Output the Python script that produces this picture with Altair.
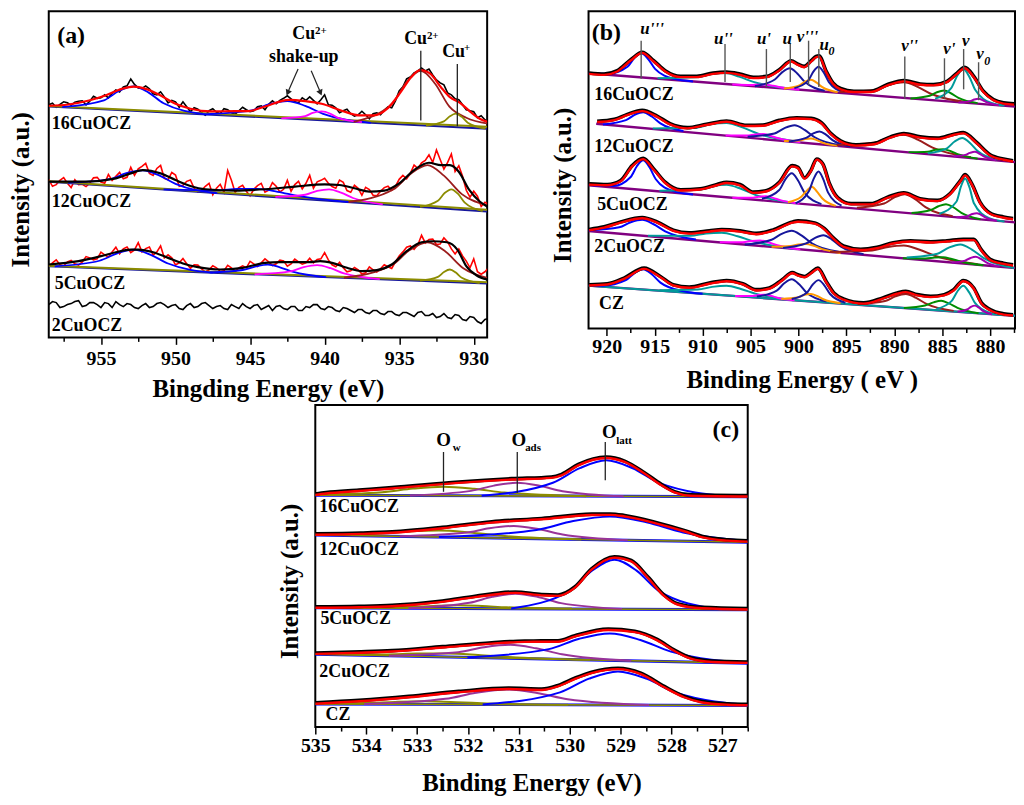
import altair as alt
import pandas as pd

SERIF = "Liberation Serif"

# ============ Panel (a) : Cu 2p ============
A_GRID = [958.5, 958.0, 957.5, 957.0, 956.5, 956.0, 955.5, 955.0, 954.5, 954.0, 953.5, 953.0,
          952.5, 952.0, 951.5, 951.0, 950.5, 950.0, 949.5, 949.0, 948.5, 948.0, 947.5, 947.0,
          946.5, 946.0, 945.5, 945.0, 944.5, 944.0, 943.5, 943.0, 942.5, 942.0, 941.5, 941.0,
          940.5, 940.0, 939.5, 939.0, 938.5, 938.0, 937.5, 937.0, 936.5, 936.0, 935.5, 935.0,
          934.5, 934.0, 933.5, 933.0, 932.5, 932.0, 931.5, 931.0, 930.5, 930.0, 929.5, 929.0]
A_MID = [x - 0.25 for x in A_GRID]  # sample positions half-way between grid points
A16_RAW = [234, 231.5, 237, 233.5, 237.5, 234, 242.5, 241, 241, 249, 252, 260, 251, 253, 245, 247,
           236, 237, 237, 227, 229.5, 223.5, 230, 225, 229, 224.5, 231.5, 227, 232, 229, 238, 238.5,
           243, 237, 241, 242, 235, 244, 233.5, 226, 229.5, 222.5, 227.5, 220, 226, 228.5, 231, 248,
           260, 266, 271, 270, 259, 254, 244, 239, 229, 227, 223, 215.5]
A16_RAW_MID = [235.5, 234.5, 236, 236.5, 238, 237.5, 240.5, 244, 245.5, 247, 253, 254.5, 250.5, 250,
               244, 242, 238.5, 231.5, 232, 231, 226, 228, 226.5, 230, 226, 228, 229, 228, 233, 234.5,
               235, 240.5, 240, 236, 238.5, 238.5, 239, 234, 231, 228, 225, 224, 224, 225, 224, 232,
               238, 252, 262, 268, 268, 264, 256, 246, 240, 234, 228, 221, 219, 214]
A12_RAW = [158.7, 153.7, 160.7, 150.7, 153.7, 151.7, 160.5, 156.3, 164, 162, 159.5, 171, 169.5, 175,
           163, 173, 158.5, 163.3, 153, 158.3, 146.5, 152, 143.5, 154, 167.8, 145.7, 153, 142.3, 152.7,
           146, 155.7, 146.3, 158, 153.7, 149.3, 163, 156.5, 160, 151.7, 158.3, 147.7, 153, 143, 148.7,
           142.5, 150.7, 148, 159, 159.5, 173.3, 175.5, 183.7, 188.5, 169.3, 184.5, 172.7, 148, 147,
           131.7, 134]
A12_RAW_MID = [152, 158, 155, 158.5, 154, 155, 161, 155, 158, 166, 161, 163, 172, 165, 170, 160, 166,
               152, 157, 150, 148, 155, 150, 146, 158, 151, 147, 149, 155, 148, 152, 149, 147, 157, 155,
               150, 158, 155, 150, 156, 146, 150, 151, 143, 147, 152, 152, 163, 165, 170, 178, 176, 179,
               176, 167, 162, 141, 142, 136, 130]
A5_RAW = [71.3, 78, 71.7, 77.5, 72.7, 81.3, 78, 85.7, 80.7, 90.7, 89, 85.3, 95.3, 89.3, 82.7, 92, 83,
          73, 79.3, 69.5, 72.7, 65.8, 72, 66.3, 72.5, 66, 72, 76.5, 71.3, 79, 72.3, 77.7, 71.7, 78.7,
          73.7, 79.7, 78.3, 85.3, 73, 75.5, 66, 70.3, 63.7, 71, 65.7, 73, 69.3, 82, 90.7, 88.5, 102.7,
          98.5, 93.5, 100.2, 89, 89, 76.7, 79, 63.5, 70]
A5_RAW_MID = [75, 73, 76, 74, 76, 80, 79, 83, 86, 84, 91, 88, 86, 91, 86, 80, 80, 75, 74, 73, 69, 68,
              70, 67, 70, 70, 70, 74, 75, 76, 74, 77, 74, 76, 75, 75, 79, 78, 71, 70, 67, 68, 65, 68,
              69, 71, 76, 86, 92, 93, 95, 99, 94, 96, 84, 82, 70, 66, 66, 60]
A2_RAW = [33, 35, 31, 34, 37, 32, 35, 30, 34, 36, 31, 33, 29, 34, 31, 35, 30, 33, 28, 34, 31, 35, 29,
          32, 28, 31, 34, 29, 33, 30, 27, 32, 28, 31, 27, 30, 33, 28, 30, 26, 29, 25, 28, 24, 27, 23,
          26, 22, 25, 21, 26, 22, 20, 24, 19, 22, 17, 20, 14, 19]
A2_RAW_MID = [36, 30, 33, 36, 31, 35, 33, 35, 30, 33, 34, 30, 32, 30, 34, 33, 32, 29, 32, 30, 34, 32,
              31, 29, 33, 29, 31, 32, 28, 32, 31, 29, 31, 27, 31, 33, 29, 31, 27, 30, 27, 28, 25, 27,
              24, 26, 23, 25, 23, 25, 22, 24, 21, 20, 23, 18, 21, 16, 18, 15]

A16_FIT = [(958.5, 233), (957.2, 234.3), (955.8, 238.3), (954.7, 243.3), (953.6, 250), (952.8, 252.3),
           (952, 250), (951, 243.3), (950, 235), (949, 230), (947.6, 227.3), (946, 227.7), (945.1, 227.7),
           (944, 232.3), (942.4, 239), (941.3, 237.7), (940.2, 235), (938.9, 228.3), (937.6, 223.3),
           (936.7, 223.3), (935.8, 230), (934.9, 246.7), (934.2, 261.7), (933.6, 269), (932.9, 265),
           (932.2, 251.7), (931.6, 241.7), (930.9, 235.7), (930.2, 226.7), (929.6, 220), (929.0, 216.7)]
A16_BLUE1 = [(957.6, 231.7), (954.8, 238.5), (953.8, 247.8), (952.8, 252.5), (951.8, 246.2), (950.8, 235.5), (948.0, 224.4)]
A16_BLUE2 = [(948.1, 224.4), (944.9, 228.4), (943.7, 234.6), (942.5, 237.7), (941.3, 232.9), (940.1, 224.9), (936.9, 215.9)]
A16_MAG = [(942.9, 220.3), (941.3, 222.6), (940.8, 225.8), (940.2, 227.3), (939.6, 224.9), (939.1, 220.9), (937.5, 216.5)]
A16_BROWN = [(938.05, 216.9), (935.47, 235.2), (934.51, 256.7), (933.55, 268), (932.59, 255.2), (931.63, 232.1), (930.5, 221), (929.05, 215)]
A16_OLIVE = [(933.2, 213.1), (932.0, 217.3), (931.6, 222.4), (931.2, 225), (930.8, 221.8), (930.4, 216), (929.2, 210.1)]
A16_BASE_N = [(958.5, 232.3), (929.1, 210)]
A16_BASE_O = [(958.5, 232.8), (929.1, 212)]

A12_FIT = [(958.5, 156.7), (956, 156.7), (954, 160), (953, 165), (952.2, 168.3), (951, 165), (950, 158.3),
           (949, 152.3), (948, 149), (946, 147.7), (944, 149), (942, 151.7), (940, 154), (939, 153.3),
           (938, 150), (937, 146.7), (936, 147.7), (935, 155), (934, 168.3), (933, 175.7), (932.2, 173.3),
           (931.6, 173.3), (931, 166.7), (930.3, 148.3), (929.6, 136.7), (929.1, 131.7)]
A12_BLUE1 = [(957.2, 155.4), (954.4, 159.1), (953.3, 165.2), (952.2, 168), (951.1, 163), (950.0, 154.5), (947.2, 145.2)]
A12_BLUE2 = [(950.8, 148.8), (947.2, 147.8), (945.85, 149.3), (944.5, 149.4), (943.15, 146.5), (941.8, 142.3), (938.2, 136)]
A12_MAG = [(943.3, 141.3), (941.3, 143.5), (940.5, 147.4), (939.7, 149), (938.9, 145.7), (938.1, 140.2), (936.1, 133.8)]
A12_BROWN = [(938.4, 136.2), (935.4, 148.8), (934.2, 164.9), (933.1, 173.3), (932.0, 162.7), (930.8, 144.1), (929.1, 133)]
A12_OLIVE = [(933.6, 131.3), (932.4, 137.5), (931.95, 145.2), (931.5, 149), (931.05, 144.3), (930.6, 135.6), (929.4, 127)]
A12_BASE_N = [(958.5, 156.5), (929.1, 126.7)]
A12_BASE_O = [(958.5, 157), (929.1, 128.5)]

A5_FIT = [(958.5, 73.3), (956.5, 76.7), (955, 81.7), (954, 85.7), (953, 88.3), (952.5, 88.3), (951.5, 85.7),
          (950.5, 80), (949.5, 74.3), (948.5, 70.7), (947, 68.3), (945.5, 70), (944, 75), (943, 75.7),
          (942, 75.7), (941, 75.7), (940.3, 76.7), (939.5, 75), (938.5, 70), (937.5, 66.7), (936.5, 67.7),
          (935.5, 73.3), (934.5, 86.7), (933.5, 95.7), (932.8, 96.7), (931.8, 95.7), (931.1, 88.3),
          (930.5, 71.7), (929.8, 62.3), (929.1, 58.3)]
A5_BLUE1 = [(958.1, 71.5), (955.1, 77.1), (953.9, 84.6), (952.8, 88.3), (951.7, 83.3), (950.5, 74.3), (947.5, 65.1)]
A5_BLUE2 = [(947.7, 65.3), (945.5, 67.8), (944.6, 71.5), (943.8, 73.3), (943.0, 70.5), (942.1, 65.8), (939.9, 60.6)]
A5_MAG = [(944.7, 63.5), (942.3, 66.4), (941.4, 70.7), (940.5, 72.7), (939.6, 69.6), (938.7, 64.3), (936.3, 58.6)]
A5_BROWN = [(938.7, 60), (935.5, 72.5), (934.3, 87.8), (933.1, 95.7), (931.9, 86.4), (930.7, 69.6), (929.1, 60)]
A5_OLIVE = [(933.6, 57), (932.4, 60.9), (932.0, 65.7), (931.6, 68.3), (931.2, 65.2), (930.8, 59.9), (929.6, 54.6)]
A5_BASE_N = [(958.5, 71.5), (929.1, 54.3)]
A5_BASE_O = [(958.5, 72), (929.1, 55.5)]

A_TICKS = [957.5, 955, 952.5, 950, 947.5, 945, 942.5, 940, 937.5, 935, 932.5, 930]
A_LINE_X = [933.55, 931.1]
A_LINE_TOP = [288.3, 275]
A_LINE_BOT = [218.3, 212.3]
A_ARROW_FROM = [(941.78, 270), (940.9, 268.3)]
A_ARROW_TO = [(942.45, 247), (940.3, 247)]
A_SAMPLES = ["16CuOCZ", "12CuOCZ", "5CuOCZ", "2CuOCZ"]
A_SAMPLE_POS = [(958.3, 210), (958.3, 131), (958.1, 48.3), (958.3, 6.7)]
A_NOTES = ["Cu", "shake-up", "Cu", "Cu"]
A_NOTE_POS = [(941.4, 300), (941.4, 276.7), (933.9, 295), (931.35, 281.7)]
A_SUPS = ["2+", "2+", "+"]
A_SUP_POS = [(940.25, 305.5), (932.75, 300.5), (930.45, 288)]

# ============ Panel (b) : Ce 3d ============
B16_FIT = [(921.84, 256.6), (920.28, 255.6), (918.9, 259), (917.5, 270), (916.3, 277.6), (915.1, 269),
           (913.9, 259), (912.3, 253.3), (910.6, 253.3), (908.9, 256.6), (907.5, 257.6), (906.1, 255.6),
           (904.7, 252.3), (903.3, 253.3), (902, 260), (900.75, 269), (900.05, 265.6), (899.4, 263.3),
           (898.67, 269), (898.15, 273.3), (897.85, 274), (897.1, 258.3), (896.4, 246.6), (895.6, 241),
           (894.2, 238.3), (892.45, 238.3), (890.7, 245), (889, 249), (887.3, 245.6), (885.9, 245),
           (884.5, 248.3), (883.45, 256.6), (882.65, 262.3), (881.7, 253.3), (880.7, 238.3),
           (879.65, 230), (878.6, 226.6), (877.5, 225.6)]
B16_U3 = [(921.7, 257.2), (919.8, 256.7), (917.84, 263.7), (917.12, 272.6), (916.4, 277.3), (915.68, 271.5), (914.96, 261.6), (913.0, 251.6), (911.0, 249)]
B16_U2 = [(914.7, 252.2), (910.7, 253.1), (909.2, 256.1), (907.7, 257.4), (906.2, 253.8), (904.7, 248.5), (900.7, 241.6)]
B16_U1 = [(906.9, 245.8), (904.9, 245.3), (904.15, 245.7), (903.4, 245.7), (902.65, 244.6), (901.9, 243), (899.9, 240.5)]
B16_U = [(904.54, 244.1), (902.46, 250.9), (901.68, 258.3), (900.9, 262.3), (900.12, 257), (899.34, 248.5), (897.26, 239.5)]
B16_V3 = [(901.5, 241.8), (899.9, 245), (899.3, 248.8), (898.7, 250.7), (898.1, 247.8), (897.5, 243.2), (895.9, 238.1)]
B16_U0 = [(900.42, 242.2), (898.98, 249.8), (898.44, 258.8), (897.9, 263.8), (897.36, 258), (896.82, 248.2), (895.38, 238.4)]
B16_V2 = [(895.72, 238.2), (891.88, 240.7), (890.44, 245.6), (889, 248), (887.56, 243.5), (886.12, 236.3), (882.28, 228)]
B16_V1 = [(888.3, 231.8), (886.3, 234.5), (885.55, 238), (884.8, 239.7), (884.05, 236.8), (883.3, 232.3), (881.3, 227.1)]
B16_V = [(885.74, 231.6), (884.06, 242.2), (883.43, 254.6), (882.8, 261.7), (882.17, 253.7), (881.54, 240.3), (879.86, 227.2), (878.5, 224.6)]
B16_V0 = [(883.3, 227.7), (882.1, 229.1), (881.65, 230.7), (881.2, 231.5), (880.75, 230), (880.3, 227.8), (879.1, 224.9)]
B16_BASE = [(921.9, 257.2), (877.4, 223.6)]

B12_FIT = [(921.0, 208), (919.2, 210), (917.86, 215), (916.3, 219), (914.75, 213.3), (913.4, 205.6),
           (911.6, 201.6), (909.6, 205), (907.5, 208.3), (905.4, 204), (903.7, 204.3), (902, 209),
           (900.2, 211.6), (898.67, 211), (897.6, 206.6), (896.6, 195.6), (895.6, 188.3), (894, 184.3),
           (892.1, 185.6), (890.4, 192.3), (889, 195.6), (887.3, 192.3), (885.5, 191), (883.8, 195),
           (882.8, 196.6), (881.4, 186.6), (880, 174.3), (878.6, 170), (877.6, 168.3)]
B12_U3 = [(920.4, 205.6), (918.0, 209.9), (917.1, 215.2), (916.2, 218), (915.3, 213.6), (914.4, 206.7), (912.0, 199)]
B12_U2 = [(915.2, 201.6), (910.8, 202.2), (909.15, 205.7), (907.5, 207), (905.85, 202.7), (904.2, 196.3), (899.8, 187.9)]
B12_U1 = [(907.6, 194.5), (905.4, 194.4), (904.5, 195.5), (903.7, 195.9), (902.9, 194), (902.0, 191.4), (899.8, 187.6)]
B12_U = [(905.3, 193.1), (902.5, 196.5), (901.45, 201.9), (900.4, 204.7), (899.35, 200.1), (898.3, 192.7), (895.5, 184.4)]
B12_V3 = [(901.5, 189), (899.9, 189.5), (899.3, 190.8), (898.7, 191.4), (898.1, 189.8), (897.5, 187.3), (895.9, 184)]
B12_U0 = [(901.0, 188.5), (899.2, 192), (898.5, 196.3), (897.8, 198.6), (897.1, 195.1), (896.4, 189.6), (894.6, 183.5)]
B12_V2 = [(896, 184.9), (892, 187.5), (890.5, 192.8), (889, 195.3), (887.5, 190.1), (886, 182.2), (882, 172.5)]
B12_V1 = [(888.5, 177.7), (886.5, 178.2), (885.7, 180), (884.9, 180.7), (884.1, 178.6), (883.3, 175.4), (881.3, 171)]
B12_V = [(886.5, 176.6), (884.5, 181.6), (883.7, 188.4), (882.9, 192), (882.1, 187), (881.3, 178.8), (879.3, 170.2)]
B12_V0 = [(883.8, 173.5), (882.6, 174.9), (882.1, 176.9), (881.6, 178), (881.1, 176), (880.6, 173.1), (879.4, 169.6)]
B12_BASE = [(921.1, 206.3), (877.4, 167.6)]

B5_FIT = [(921.84, 145), (919.94, 144.3), (918.55, 148.3), (917.35, 163.3), (916.2, 170.6), (915.1, 160),
          (913.9, 146.6), (912.3, 139), (910.25, 140), (908.5, 144.3), (907.5, 146.6), (906.1, 144.3),
          (904.7, 136.6), (903.3, 138.3), (902, 146.6), (900.65, 163.3), (900.05, 161.6), (899.36, 151),
          (898.67, 159), (898.1, 170), (897.45, 165), (896.75, 145), (895.9, 131), (894.5, 125),
          (892.45, 125), (890.7, 131.6), (889, 136), (887.3, 130), (885.5, 128.3), (884.2, 135),
          (883.1, 148.3), (882.6, 154.3), (881.9, 145), (881.05, 126.6), (880, 115.6), (878.6, 111.6),
          (877.6, 110)]
B5_U3 = [(921.7, 144.5), (919.3, 143.6), (917.5, 152.6), (916.86, 163.5), (916.2, 169.5), (915.54, 162.4), (914.88, 150.4), (913.1, 138.4), (911, 135.1)]
B5_U2 = [(914.5, 138.7), (910.5, 139.7), (909, 143.2), (907.5, 144.7), (906, 140.8), (904.5, 134.6), (900.5, 126.6)]
B5_U1 = [(906.9, 131.8), (904.9, 131.8), (904.15, 132.8), (903.4, 133.2), (902.65, 131.6), (901.9, 129.3), (899.9, 125.8)]
B5_U = [(903.8, 130.6), (902.0, 139.5), (901.36, 150.3), (900.7, 156.3), (900.04, 149.1), (899.38, 137.2), (897.6, 125.3)]
B5_V3 = [(901.1, 127.2), (899.7, 132.8), (899.1, 139.1), (898.6, 142.7), (898.1, 138.3), (897.5, 131), (896.1, 123.5)]
B5_U0 = [(900.3, 126.1), (898.9, 138.5), (898.4, 151), (897.9, 158.1), (897.4, 150.2), (896.9, 136.9), (895.5, 123.8)]
B5_V2 = [(893.9, 121.6), (891.06, 125.9), (889.98, 132.1), (888.9, 135.3), (887.82, 130.3), (886.74, 122.2), (883.9, 113.2)]
B5_V1 = [(888.2, 116.3), (886.2, 119.4), (885.4, 123.1), (884.6, 125.2), (883.8, 121.9), (883.0, 116.5), (881.0, 110)]
B5_V = [(885.3, 115.5), (883.5, 128), (883.05, 142.8), (882.6, 151.2), (882.15, 142.1), (881.7, 126.5), (880.1, 111.2), (878.5, 107.8)]
B5_V0 = [(883.5, 112), (882.3, 113.4), (881.85, 115.3), (881.4, 116.2), (880.95, 114.6), (880.5, 111.9), (879.3, 108.5)]
B5_BASE = [(921.9, 144.3), (877.4, 106.9)]

B2_FIT = [(921.84, 99), (920.28, 101.6), (918.55, 106.6), (916.3, 111), (914.75, 106.6), (913.05, 98.3),
          (911.4, 95.6), (909.3, 97.6), (908, 99), (906.1, 97.6), (904.4, 95), (902.7, 98.3), (900.6, 106.6),
          (900.05, 107.6), (898.3, 105.6), (897.3, 100), (896.3, 90), (895.3, 82.3), (893.5, 79),
          (891.8, 81), (890.1, 85.6), (888.3, 87.6), (886.2, 86.6), (884.5, 87.6), (882.8, 89),
          (881.7, 89), (880.9, 78.3), (880, 69), (878.6, 65), (877.6, 63.3)]
B2_U3 = [(921.9, 98.8), (918.7, 101.9), (917.5, 107), (916.3, 109.5), (915.1, 105), (913.9, 97.9), (910.7, 89.6)]
B2_U2 = [(915.7, 93.5), (911.3, 93.3), (909.65, 95.7), (908, 96.5), (906.35, 92.9), (904.7, 87.8), (900.3, 80.1)]
B2_U1 = [(908.2, 86.8), (905.8, 86.9), (904.9, 88.2), (904, 88.7), (903.1, 86.7), (902.2, 83.9), (899.8, 79.7)]
B2_U = [(905.6, 84.5), (902.8, 89.4), (901.75, 95.3), (900.7, 98.4), (899.65, 93.5), (898.6, 85.8), (895.8, 77.2)]
B2_V3 = [(902.8, 82.4), (900.8, 83.1), (900, 84.7), (899.2, 85.2), (898.4, 83.2), (897.6, 80.2), (895.6, 76.1)]
B2_U0 = [(901.6, 81.2), (899.2, 85.7), (898.3, 91.1), (897.4, 93.9), (896.5, 89.6), (895.6, 82.6), (893.2, 74.9)]
B2_V2 = [(896.7, 77.1), (892.3, 78.6), (890.65, 82.1), (889, 83.6), (887.35, 79.3), (885.7, 73), (881.3, 64.8)]
B2_V1 = [(889.1, 70.7), (886.7, 70.5), (885.8, 71.4), (884.9, 71.7), (884, 69.9), (883.1, 67.5), (880.7, 63.6)]
B2_V = [(888.7, 71.4), (885.5, 75.3), (884.3, 81.5), (883.1, 84.7), (881.9, 79.5), (880.7, 71.2), (877.5, 61)]
B2_V0 = [(884, 66.4), (882.6, 68.4), (882.04, 71), (881.5, 72.3), (880.96, 70.1), (880.4, 66.6), (879, 62.2)]
B2_BASE = [(921.9, 98.2), (877.4, 60.9)]

BCZ_FIT = [(921.84, 43.3), (919.94, 44.3), (918.2, 50), (916.1, 60), (914.4, 51.6), (913.05, 43.3),
           (911.4, 41), (909.3, 45), (907.5, 47.6), (905.8, 44.3), (904.4, 38.3), (903.05, 40), (901.7, 48.3),
           (900.65, 55.6), (900.05, 53.3), (899.36, 51.6), (898.67, 55.6), (897.97, 60), (897.1, 46.6),
           (896.3, 35), (895.3, 29), (893.2, 25), (891.2, 30), (889.7, 35), (888.8, 36.6), (887.6, 33.3),
           (886.2, 31.6), (884.8, 33.3), (883.8, 38.3), (882.8, 47.6), (881.7, 40), (880.9, 25),
           (880, 18.3), (878.6, 14), (877.6, 13)]
BCZ_U3 = [(921.7, 43.2), (920.4, 43.1), (918, 48.6), (917.1, 55.8), (916.2, 59.7), (915.3, 54.6), (914.4, 46.2), (912, 37.4), (910, 35)]
BCZ_U2 = [(914.5, 38.6), (910.5, 39.2), (909, 41.9), (907.5, 43), (906, 39.8), (904.5, 35.1), (900.5, 28.5)]
BCZ_U1 = [(906.6, 32.7), (904.8, 32.8), (904.16, 33.7), (903.5, 34), (902.84, 32.8), (902.2, 31), (900.4, 28.4)]
BCZ_U = [(904.34, 32.1), (902.26, 38.1), (901.48, 45.5), (900.7, 49.6), (899.92, 44.5), (899.14, 35.9), (897.06, 27.1)]
BCZ_V3 = [(901.8, 29.8), (900.0, 31.5), (899.36, 34), (898.7, 34.7), (898.04, 32.7), (897.4, 29.4), (895.6, 25.5)]
BCZ_U0 = [(900.7, 29.7), (899.1, 36.3), (898.5, 44.3), (897.9, 48.7), (897.3, 43.5), (896.7, 34.7), (895.1, 25.9)]
BCZ_V2 = [(893.8, 24.6), (890.96, 27.6), (889.88, 32.3), (888.8, 34.7), (887.72, 30.8), (886.64, 24.7), (883.8, 17.7)]
BCZ_V1 = [(889, 20.6), (886.8, 23.1), (885.9, 26.3), (885.1, 27.9), (884.3, 25.2), (883.4, 20.8), (881.2, 15.3)]
BCZ_V = [(885.6, 19.6), (884, 27.8), (883.4, 37.5), (882.8, 43), (882.2, 36.6), (881.6, 26.1), (880, 15.7), (878.4, 13.3)]
BCZ_V0 = [(883.4, 16.8), (882.4, 19.1), (882, 21.7), (881.6, 23), (881.2, 21.2), (880.8, 18), (879.8, 14.3)]
BCZ_BASE = [(921.9, 43.1), (877.4, 12.7)]

B_TICKS = [920, 917.5, 915, 912.5, 910, 907.5, 905, 902.5, 900, 897.5, 895, 892.5, 890, 887.5, 885,
           882.5, 880, 877.5]
B_MARK_X = [916.41, 907.66, 903.34, 900.85, 898.94, 897.87, 888.9, 884.76, 882.76, 881.2]
B_MARK_TOP = [290, 286.6, 281.6, 286.6, 290, 281.6, 274, 272.3, 281.6, 268.3]
B_MARK_BOT = [251.6, 248.3, 243.3, 248.3, 245, 243.3, 231.6, 231.6, 241, 230]
B_PEAKS = ["u'''", "u''", "u'", "u", "v'''", "u", "v''", "v'", "v", "v"]
B_PEAK_POS = [(915.27, 296.6), (907.83, 286.6), (903.6, 286.6), (901.16, 286.6), (899.05, 288.3),
              (897.3, 280.6), (888.4, 280), (884.25, 276.6), (882.55, 285), (881.04, 271.6)]
B_SUBS = ["0", "0"]
B_SUB_POS = [(896.55, 275.3), (880.3, 265.6)]
B_SAMPLES = ["16CuOCZ", "12CuOCZ", "5CuOCZ", "2CuOCZ", "CZ"]
B_SAMPLE_POS = [(921.3, 230), (921.3, 177.6), (921.0, 119.3), (921.3, 76.6), (920.8, 20)]

# ============ Panel (c) : O 1s ============
C16_FIT = [(535, 233.5), (534.79, 235), (534.14, 237.5), (533.49, 240), (532.18, 245.7), (531.14, 249),
           (530.36, 250.7), (530.16, 253.3), (529.83, 263.3), (529.28, 270.7), (528.92, 266.7),
           (528.53, 255), (528.2, 243.3), (527.94, 236), (527.62, 232.7), (526.5, 232)]
C16_BLUE = [(531.73, 232.6), (530.33, 245.8), (529.8, 260.5), (529.28, 268.4), (528.76, 260.3), (528.23, 245.4), (526.83, 231.8)]
C16_PURP = [(533.14, 232.9), (531.94, 237.6), (531.49, 242.9), (531.04, 245.7), (530.59, 242.7), (530.14, 237.3), (528.94, 232.1)]
C16_OLIVE = [(535.28, 233.4), (533.68, 236.3), (533.08, 239.9), (532.48, 241.8), (531.88, 239.7), (531.28, 235.9), (529.68, 232.3)]
C16_BASE = [(535, 233.3), (526.5, 231.7)]

C12_FIT = [(535, 193.5), (534.1, 194.3), (533.49, 195.5), (532.5, 200), (531.53, 205.7), (530.55, 209),
           (529.57, 213.3), (529.2, 213.5), (528.92, 212), (528.27, 204.5), (527.75, 197), (527.36, 190.5),
           (526.9, 187.5), (526.5, 186.5)]
C12_BLUE = [(532.57, 191.2), (530.65, 198.2), (529.93, 207.2), (529.21, 211.7), (528.49, 206), (527.77, 195.8), (525.85, 185.4)]
C12_PURP = [(533.34, 191.9), (532.06, 195.4), (531.58, 200), (531.1, 202.3), (530.62, 199.2), (530.14, 193.7), (528.86, 188)]
C12_OLIVE = [(535.37, 193.6), (533.77, 194.6), (533.17, 196.8), (532.57, 197.7), (531.97, 195.8), (531.37, 192.6), (529.77, 188.8)]
C12_BASE = [(535, 193.3), (526.5, 186)]

C5_FIT = [(535, 120), (534.14, 120.5), (533.49, 121.5), (532.5, 126), (531.86, 130.7), (531.07, 135),
          (530.55, 132.5), (530.23, 132), (529.9, 140), (529.57, 158.3), (529.12, 170.5), (528.79, 166.7),
          (528.46, 150), (528.14, 131.7), (527.88, 123.3), (527.4, 119.5), (526.5, 118.3)]
C5_BLUE = [(531.15, 119.3), (529.99, 137.3), (529.555, 157.5), (529.12, 168.4), (528.685, 157.4), (528.25, 137.1), (527.09, 118.5)]
C5_PURP = [(533.17, 119.6), (531.97, 125), (531.52, 131), (531.07, 134.2), (530.62, 130.9), (530.17, 124.7), (528.97, 118.9)]
C5_OLIVE = [(534.44, 119.8), (533.16, 120.8), (532.68, 121.9), (532.2, 122.6), (531.72, 121.8), (531.24, 120.5), (529.96, 119.2)]
C5_BASE = [(535, 120), (526.5, 118)]

C2_FIT = [(535, 73.6), (534.1, 74.8), (533.49, 76), (532.5, 80), (531.53, 84), (530.88, 85.7), (530.23, 85.9),
          (529.9, 91), (529.24, 97.7), (528.72, 95.5), (528.27, 87), (527.94, 76.5), (527.62, 68.8),
          (527.2, 65.5), (526.5, 64.6)]
C2_BLUE = [(532.01, 70.1), (530.41, 78.4), (529.81, 88.9), (529.21, 94.2), (528.61, 87.6), (528.01, 75.9), (526.41, 64.2)]
C2_PURP = [(533.55, 71.8), (532.19, 75.3), (531.68, 80.3), (531.17, 82.7), (530.66, 79.2), (530.15, 73.2), (528.79, 66.7)]
C2_OLIVE = [(535.2, 73.5), (533.6, 73.1), (533, 73.9), (532.4, 74), (531.8, 72.6), (531.2, 70.6), (529.6, 67.6)]
C2_BASE = [(535, 73.3), (526.5, 64.3)]

CCZ_FIT = [(535, 23.5), (534.14, 26), (533.16, 30), (532.18, 35), (531.2, 38.3), (530.55, 37.3), (530.23, 41),
           (529.9, 48.3), (529.57, 54.3), (529.05, 58.3), (528.6, 53.3), (528.14, 40), (527.75, 30),
           (527.42, 25), (526.9, 22.5), (526.5, 22)]
CCZ_BLUE = [(531.71, 22.7), (530.19, 34.9), (529.62, 48.7), (529.05, 56), (528.48, 48.5), (527.91, 34.5), (526.39, 21.7)]
CCZ_PURP = [(534.04, 23.1), (532.44, 28.4), (531.84, 34.5), (531.24, 37.7), (530.64, 34.3), (530.04, 28), (528.44, 22.1)]
CCZ_OLIVE = [(535.63, 23.4), (534.03, 24.2), (533.43, 25.3), (532.83, 25.9), (532.23, 25.1), (531.63, 23.8), (530.03, 22.4)]
CCZ_BASE = [(535, 23.3), (526.5, 21.7)]

C_TICKS = [535, 534.5, 534, 533.5, 533, 532.5, 532, 531.5, 531, 530.5, 530, 529.5, 529, 528.5, 528,
           527.5, 527, 526.5]
C_LINE_X = [532.48, 531.03, 529.3]
C_LINE_TOP = [276.7, 276.7, 286.7]
C_LINE_BOT = [236.7, 235.7, 248.3]
C_O_POS = [(532.48, 282.3), (531.0, 282.3), (529.22, 290.7)]
C_SUBS = ["w", "ads", "latt"]
C_SUB_POS = [(532.22, 277.3), (530.72, 277.3), (528.93, 285)]
C_SAMPLES = ["16CuOCZ", "12CuOCZ", "5CuOCZ", "2CuOCZ", "CZ"]
C_SAMPLE_POS = [(534.92, 216), (534.92, 173.3), (534.9, 103.3), (534.92, 50.7), (534.8, 7.3)]

# ============ styling ============
BLACK = "#000000"; RED = "#ff0000"; BLUE = "#0000ff"; MAGENTA = "#ff00ff"
BROWN = "#9b1c1c"; OLIVE = "#8c8c00"; NAVY = "#16169c"; TEAL = "#009a9a"
ORANGE = "#ff9900"; GREEN = "#008c00"; VPURPLE = "#a000b0"; BPURPLE = "#800080"; CPURPLE = "#993399"


def curves(items):
    rows = []
    for cid, col, pts in items:
        for x, y in pts:
            rows.append({"cid": cid, "col": col, "x": x, "y": y})
    return pd.DataFrame(rows)


def texts(labels, pos):
    return pd.DataFrame({"t": labels, "x": [p[0] for p in pos], "y": [p[1] for p in pos]})


def encs(dom, ticks, major, xtitle, ymax, ytitle_y, ytitle_pad, lab_pad, xtitle_pad):
    cond = f"abs(datum.value / {major} - round(datum.value / {major})) < 0.001"
    X = alt.X("x:Q", scale=alt.Scale(domain=dom, reverse=True, nice=False, zero=False),
              axis=alt.Axis(title=xtitle, values=ticks,
                            labelExpr=f"{cond} ? format(datum.value, 'd') : ''",
                            tickSize={"condition": {"test": cond, "value": 7}, "value": 4},
                            tickWidth=1.5, tickColor="black", labelPadding=lab_pad,
                            titlePadding=xtitle_pad, labelOverlap=False, labelFlush=False,
                            domain=False, grid=False))
    Y = alt.Y("y:Q", scale=alt.Scale(domain=[0, ymax], nice=False, zero=False),
              axis=alt.Axis(title="Intensity (a.u.)", labels=False, ticks=False, domain=False,
                            grid=False, titlePadding=ytitle_pad, titleY=ytitle_y))
    return X, Y


ORDER = alt.Order("x:Q", sort="descending")


def line_layer(df, X, Y, width, interp="monotone", y_off=0):
    return alt.Chart(df).mark_line(strokeWidth=width, interpolate=interp, clip=True, yOffset=y_off).encode(
        x=X, y=Y, color=alt.Color("col:N", scale=None), detail="cid:N", order=ORDER)


def text_layer(df, X, Y, size, align="center", italic=False, weight="bold"):
    return alt.Chart(df).mark_text(font=SERIF, fontSize=size, fontWeight=weight, align=align,
                                   baseline="alphabetic", color="black",
                                   fontStyle="italic" if italic else "normal").encode(
        x=X, y=Y, text="t:N")


def rule_layer(xs, tops, bots, X, Y, color, width):
    df = pd.DataFrame({"x": xs, "y": tops, "y2": bots})
    return alt.Chart(df).mark_rule(color=color, strokeWidth=width).encode(x=X, y=Y, y2="y2:Q")


# ---------- panel a ----------
AW, AH = 441, 328
XA, YA = encs([929.1, 958.5], A_TICKS, 5, "Bingding Energy (eV)", AH, AH / 2 + 15, 15, 4, 8)
a_raw = curves([("r16", BLACK, list(zip(A_GRID, A16_RAW)) + list(zip(A_MID, A16_RAW_MID))),
                ("r12", RED, list(zip(A_GRID, A12_RAW)) + list(zip(A_MID, A12_RAW_MID))),
                ("r5", RED, list(zip(A_GRID, A5_RAW)) + list(zip(A_MID, A5_RAW_MID))),
                ("r2", BLACK, list(zip(A_GRID, A2_RAW)) + list(zip(A_MID, A2_RAW_MID)))])
a_base = curves([("n16", NAVY, A16_BASE_N), ("n12", NAVY, A12_BASE_N), ("n5", NAVY, A5_BASE_N),
                 ("o16", OLIVE, A16_BASE_O), ("o12", OLIVE, A12_BASE_O), ("o5", OLIVE, A5_BASE_O)])
a_comp = curves([
    ("b1_16", BLUE, A16_BLUE1), ("b2_16", BLUE, A16_BLUE2), ("m16", MAGENTA, A16_MAG),
    ("br16", BROWN, A16_BROWN), ("ol16", OLIVE, A16_OLIVE),
    ("b1_12", BLUE, A12_BLUE1), ("b2_12", BLUE, A12_BLUE2), ("m12", MAGENTA, A12_MAG),
    ("br12", BROWN, A12_BROWN), ("ol12", OLIVE, A12_OLIVE),
    ("b1_5", BLUE, A5_BLUE1), ("b2_5", BLUE, A5_BLUE2), ("m5", MAGENTA, A5_MAG),
    ("br5", BROWN, A5_BROWN), ("ol5", OLIVE, A5_OLIVE)])
a_fit = curves([("f16", RED, A16_FIT), ("f12", BLACK, A12_FIT), ("f5", BLACK, A5_FIT)])

arrow_df = pd.DataFrame({"x": [p[0] for p in A_ARROW_FROM], "y": [p[1] for p in A_ARROW_FROM],
                         "x2": [p[0] for p in A_ARROW_TO], "y2": [p[1] for p in A_ARROW_TO]})
head1 = pd.DataFrame({"x": [A_ARROW_TO[0][0]], "y": [A_ARROW_TO[0][1]]})
head2 = pd.DataFrame({"x": [A_ARROW_TO[1][0]], "y": [A_ARROW_TO[1][1]]})

panel_a = alt.layer(
    line_layer(a_raw, XA, YA, 1.6, interp="linear"),
    line_layer(a_base, XA, YA, 2, interp="linear"),
    line_layer(a_comp, XA, YA, 1.8),
    line_layer(a_fit, XA, YA, 2.2),
    rule_layer(A_LINE_X, A_LINE_TOP, A_LINE_BOT, XA, YA, "#222222", 1.3),
    alt.Chart(arrow_df).mark_rule(color="#222222", strokeWidth=1.2).encode(x=XA, y=YA, x2="x2:Q", y2="y2:Q"),
    alt.Chart(head1).mark_point(shape="triangle", filled=True, size=45, angle=203, color="#222222", opacity=1).encode(x=XA, y=YA),
    alt.Chart(head2).mark_point(shape="triangle", filled=True, size=45, angle=157, color="#222222", opacity=1).encode(x=XA, y=YA),
    text_layer(texts(["(a)"], [(957.0, 295.7)]), XA, YA, 24),
    text_layer(texts(A_NOTES, A_NOTE_POS), XA, YA, 18),
    text_layer(texts(A_SUPS, A_SUP_POS), XA, YA, 11),
    text_layer(texts(A_SAMPLES, A_SAMPLE_POS), XA, YA, 18, align="left"),
).properties(width=AW, height=AH)

# ---------- panel b ----------
BW, BH = 429, 319
XB, YB = encs([877.4, 921.9], B_TICKS, 5, "Binding Energy ( eV )", 319.6, BH / 2 + 15, 13, 1, 11)
b_specs = [
    ("16", B16_FIT, [B16_U3, B16_U2, B16_U1, B16_U, B16_V3, B16_U0, B16_V2, B16_V1, B16_V, B16_V0], B16_BASE),
    ("12", B12_FIT, [B12_U3, B12_U2, B12_U1, B12_U, B12_V3, B12_U0, B12_V2, B12_V1, B12_V, B12_V0], B12_BASE),
    ("5", B5_FIT, [B5_U3, B5_U2, B5_U1, B5_U, B5_V3, B5_U0, B5_V2, B5_V1, B5_V, B5_V0], B5_BASE),
    ("2", B2_FIT, [B2_U3, B2_U2, B2_U1, B2_U, B2_V3, B2_U0, B2_V2, B2_V1, B2_V, B2_V0], B2_BASE),
    ("cz", BCZ_FIT, [BCZ_U3, BCZ_U2, BCZ_U1, BCZ_U, BCZ_V3, BCZ_U0, BCZ_V2, BCZ_V1, BCZ_V, BCZ_V0], BCZ_BASE),
]
B_COMP_COLORS = [BLUE, TEAL, MAGENTA, NAVY, ORANGE, NAVY, BROWN, GREEN, TEAL, VPURPLE]
b_comp_items, b_base_items, b_fit_items = [], [], []
for key, fit, comps, base in b_specs:
    b_fit_items.append(("f" + key, RED, fit))
    b_base_items.append(("bp" + key, BPURPLE, base))
    for i, (col, pts) in enumerate(zip(B_COMP_COLORS, comps)):
        b_comp_items.append((f"c{key}_{i}", col, pts))
b_fit = curves(b_fit_items)
b_halo = curves([(c, BLACK, p) for c, _, p in b_fit_items])

panel_b = alt.layer(
    line_layer(curves(b_base_items), XB, YB, 2.4, interp="linear"),
    line_layer(curves([("bt_cz", TEAL, BCZ_BASE)]), XB, YB, 2, interp="linear"),
    line_layer(curves(b_comp_items), XB, YB, 2),
    line_layer(b_halo, XB, YB, 3.6, y_off=-0.8),
    line_layer(b_fit, XB, YB, 2.4),
    rule_layer(B_MARK_X, B_MARK_TOP, B_MARK_BOT, XB, YB, "#555555", 1.4),
    text_layer(texts(["(b)"], [(920.04, 291)]), XB, YB, 24),
    text_layer(texts(B_PEAKS, B_PEAK_POS), XB, YB, 17, italic=True),
    text_layer(texts(B_SUBS, B_SUB_POS), XB, YB, 12, italic=True),
    text_layer(texts(B_SAMPLES, B_SAMPLE_POS), XB, YB, 18, align="left"),
).properties(width=BW, height=BH)

# ---------- panel c ----------
CW, CH = 435, 324
XC, YC = encs([526.5, 535], C_TICKS, 1, "Binding Energy (eV)", CH, CH / 2 + 15, 13, 2, 15)
c_specs = [("16", C16_FIT, C16_BLUE, C16_PURP, C16_OLIVE, C16_BASE),
           ("12", C12_FIT, C12_BLUE, C12_PURP, C12_OLIVE, C12_BASE),
           ("5", C5_FIT, C5_BLUE, C5_PURP, C5_OLIVE, C5_BASE),
           ("2", C2_FIT, C2_BLUE, C2_PURP, C2_OLIVE, C2_BASE),
           ("cz", CCZ_FIT, CCZ_BLUE, CCZ_PURP, CCZ_OLIVE, CCZ_BASE)]
c_fit_items, c_comp_items, c_bb_items, c_bo_items = [], [], [], []
for key, fit, bl, pu, ol, base in c_specs:
    c_fit_items.append(("f" + key, RED, fit))
    c_comp_items += [("ol" + key, OLIVE, ol), ("pu" + key, CPURPLE, pu), ("bl" + key, BLUE, bl)]
    c_bb_items.append(("bb" + key, BLUE, base))
    c_bo_items.append(("bo" + key, OLIVE, base))

panel_c = alt.layer(
    line_layer(curves(c_bb_items), XC, YC, 3, interp="linear"),
    line_layer(curves(c_bo_items), XC, YC, 1.6, interp="linear"),
    line_layer(curves(c_comp_items), XC, YC, 2),
    line_layer(curves([(c, BLACK, p) for c, _, p in c_fit_items]), XC, YC, 3.6, y_off=-0.9),
    line_layer(curves(c_fit_items), XC, YC, 2.4),
    rule_layer(C_LINE_X, C_LINE_TOP, C_LINE_BOT, XC, YC, "#222222", 1.3),
    text_layer(texts(["O", "O", "O"], C_O_POS), XC, YC, 19),
    text_layer(texts(C_SUBS, C_SUB_POS), XC, YC, 11),
    text_layer(texts(["(c)"], [(526.93, 291.7)]), XC, YC, 24),
    text_layer(texts(C_SAMPLES, C_SAMPLE_POS), XC, YC, 18, align="left"),
).properties(width=CW, height=CH)

top = alt.hconcat(panel_a, panel_b, spacing=60)
chart = alt.vconcat(top, panel_c, spacing=2, center=True).properties(padding=0).configure_view(
    stroke="black", strokeWidth=2
).configure_axis(
    labelFont=SERIF, labelFontSize=20, labelFontWeight="bold", labelColor="black",
    titleFont=SERIF, titleFontSize=25, titleFontWeight="bold", titleColor="black"
)

chart.save("out.html", embed_options={"renderer": "svg", "actions": False})
